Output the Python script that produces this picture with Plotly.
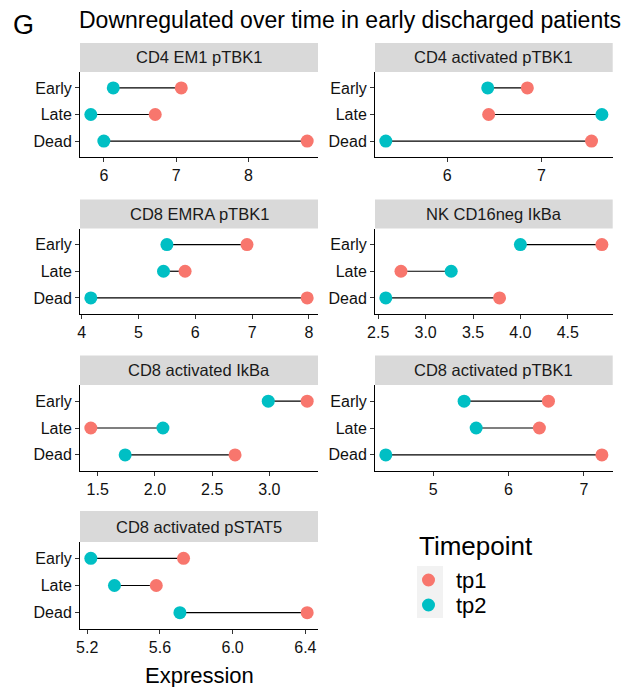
import plotly.graph_objects as go

# ---------------- data ----------------
panels = ["CD4 EM1 pTBK1", "CD4 activated pTBK1", "CD8 EMRA pTBK1",
          "NK CD16neg IkBa", "CD8 activated IkBa", "CD8 activated pTBK1",
          "CD8 activated pSTAT5"]
groups = ["Early", "Late", "Dead"]

tp1 = {
    "CD4 EM1 pTBK1":        [7.07, 6.71, 8.81],
    "CD4 activated pTBK1":  [6.85, 6.44, 7.53],
    "CD8 EMRA pTBK1":       [6.91, 5.82, 7.97],
    "NK CD16neg IkBa":      [4.86, 2.74, 3.78],
    "CD8 activated IkBa":   [3.33, 1.44, 2.70],
    "CD8 activated pTBK1":  [6.53, 6.41, 7.24],
    "CD8 activated pSTAT5": [5.73, 5.58, 6.41],
}
tp2 = {
    "CD4 EM1 pTBK1":        [6.13, 5.82, 6.00],
    "CD4 activated pTBK1":  [6.43, 7.64, 5.35],
    "CD8 EMRA pTBK1":       [5.50, 5.44, 4.16],
    "NK CD16neg IkBa":      [4.00, 3.27, 2.58],
    "CD8 activated IkBa":   [2.99, 2.07, 1.74],
    "CD8 activated pTBK1":  [5.41, 5.57, 4.37],
    "CD8 activated pSTAT5": [5.22, 5.35, 5.71],
}
tickvals = {
    "CD4 EM1 pTBK1":        [6, 7, 8],
    "CD4 activated pTBK1":  [6, 7],
    "CD8 EMRA pTBK1":       [4, 5, 6, 7, 8],
    "NK CD16neg IkBa":      [2.5, 3.0, 3.5, 4.0, 4.5],
    "CD8 activated IkBa":   [1.5, 2.0, 2.5, 3.0],
    "CD8 activated pTBK1":  [5, 6, 7],
    "CD8 activated pSTAT5": [5.2, 5.6, 6.0, 6.4],
}
ticktext = {
    "CD4 EM1 pTBK1":        ["6", "7", "8"],
    "CD4 activated pTBK1":  ["6", "7"],
    "CD8 EMRA pTBK1":       ["4", "5", "6", "7", "8"],
    "NK CD16neg IkBa":      ["2.5", "3.0", "3.5", "4.0", "4.5"],
    "CD8 activated IkBa":   ["1.5", "2.0", "2.5", "3.0"],
    "CD8 activated pTBK1":  ["5", "6", "7"],
    "CD8 activated pSTAT5": ["5.2", "5.6", "6.0", "6.4"],
}
legend_title = "Timepoint"
series_names = ["tp1", "tp2"]
title_text = "Downregulated over time in early discharged patients"
xlabel = "Expression"

# ---------------- style / layout ----------------
W, H = 636, 687
C1, C2 = "#F8766D", "#00BFC4"
FONT = "Liberation Sans, Arial, Helvetica, sans-serif"
cols = [(80, 318), (375, 612.7)]
rows = [((43, 72), (72, 157)),
        ((199.5, 228.5), (228.5, 314)),
        ((355.5, 385), (385, 471)),
        ((511, 542), (542, 629))]

def fx(px):
    return px / W

def fy(py):
    return 1 - py / H

fig = go.Figure()
shapes = []
annotations = []
layout = {}

for i, name in enumerate(panels):
    r, c = divmod(i, 2)
    (st, sb), (pt, pb) = rows[r]
    x0, x1 = cols[c]
    ax = "" if i == 0 else str(i + 1)
    xref, yref = "x" + ax, "y" + ax

    a, b = tp1[name], tp2[name]
    # segments
    sx, sy = [], []
    for g, v1, v2 in zip(groups, a, b):
        sx += [v1, v2, None]
        sy += [g, g, None]
    fig.add_trace(go.Scatter(x=sx, y=sy, mode="lines",
                             line=dict(color="black", width=1.2),
                             xaxis=xref, yaxis=yref, showlegend=False,
                             hoverinfo="skip"))
    fig.add_trace(go.Scatter(x=a, y=groups, mode="markers", name=series_names[0],
                             marker=dict(color=C1, size=13),
                             xaxis=xref, yaxis=yref, showlegend=False))
    fig.add_trace(go.Scatter(x=b, y=groups, mode="markers", name=series_names[1],
                             marker=dict(color=C2, size=13),
                             xaxis=xref, yaxis=yref, showlegend=False))

    allv = a + b
    lo, hi = min(allv), max(allv)
    span = hi - lo
    rng = [lo - 0.05 * span, hi + 0.05 * span]

    layout["xaxis" + ax] = dict(
        domain=[fx(x0), fx(x1)], anchor=yref, range=rng, automargin=False,
        tickmode="array", tickvals=tickvals[name], ticktext=ticktext[name],
        showline=True, linecolor="black", linewidth=1,
        ticks="outside", ticklen=4, tickcolor="#333333", tickwidth=1,
        showgrid=False, zeroline=False,
        tickfont=dict(family=FONT, size=16, color="#111111"))
    layout["yaxis" + ax] = dict(
        domain=[fy(pb), fy(pt)], anchor=xref, type="category", automargin=False,
        categoryorder="array", categoryarray=groups[::-1], range=[-0.6, 2.6],
        showline=True, linecolor="black", linewidth=1,
        ticks="outside", ticklen=4, tickcolor="#333333", tickwidth=1,
        showgrid=False, zeroline=False,
        tickfont=dict(family=FONT, size=16, color="#111111"))

    shapes.append(dict(type="rect", xref="paper", yref="paper",
                       x0=fx(x0), x1=fx(x1), y0=fy(sb), y1=fy(st),
                       fillcolor="#D9D9D9", line=dict(width=0), layer="below"))
    annotations.append(dict(text=name, xref="paper", yref="paper",
                            x=fx((x0 + x1) / 2), y=fy((st + sb) / 2),
                            xanchor="center", yanchor="middle", showarrow=False,
                            font=dict(family=FONT, size=16.5, color="#1a1a1a")))

# title & panel letter
annotations.append(dict(text="G", xref="paper", yref="paper", x=fx(11), y=fy(25),
                        xanchor="left", yanchor="middle", showarrow=False,
                        font=dict(family=FONT, size=27, color="black")))
annotations.append(dict(text=title_text, xref="paper", yref="paper", x=fx(77), y=fy(20),
                        xanchor="left", yanchor="middle", showarrow=False,
                        font=dict(family=FONT, size=23, color="black")))
# x-axis title
annotations.append(dict(text=xlabel, xref="paper", yref="paper", x=fx(199), y=fy(675),
                        xanchor="center", yanchor="middle", showarrow=False,
                        font=dict(family=FONT, size=22, color="black")))

# manual legend
shapes.append(dict(type="rect", xref="paper", yref="paper",
                   x0=fx(417), x1=fx(443), y0=fy(618), y1=fy(566),
                   fillcolor="#F2F2F2", line=dict(width=0), layer="below"))
for ky, col, lab in [(580, C1, series_names[0]), (605, C2, series_names[1])]:
    shapes.append(dict(type="circle", xref="paper", yref="paper",
                       xsizemode="pixel", ysizemode="pixel",
                       xanchor=fx(428.5), yanchor=fy(ky),
                       x0=-6.5, x1=6.5, y0=-6.5, y1=6.5,
                       fillcolor=col, line=dict(width=0)))
    annotations.append(dict(text=lab, xref="paper", yref="paper", x=fx(454), y=fy(ky),
                            xanchor="left", yanchor="middle", showarrow=False,
                            font=dict(family=FONT, size=22, color="black")))
annotations.append(dict(text=legend_title, xref="paper", yref="paper", x=fx(417), y=fy(546),
                        xanchor="left", yanchor="middle", showarrow=False,
                        font=dict(family=FONT, size=26, color="black")))

fig.update_layout(width=W, height=H, margin=dict(l=0, r=0, t=0, b=0, autoexpand=False),
                  paper_bgcolor="white", plot_bgcolor="white",
                  showlegend=False, shapes=shapes, annotations=annotations,
                  **layout)
fig.write_html("out.html", config={"responsive": False, "displayModeBar": False},
               default_width="636px", default_height="687px",
               post_script="document.body.style.margin='0';document.body.style.overflow='hidden';")
